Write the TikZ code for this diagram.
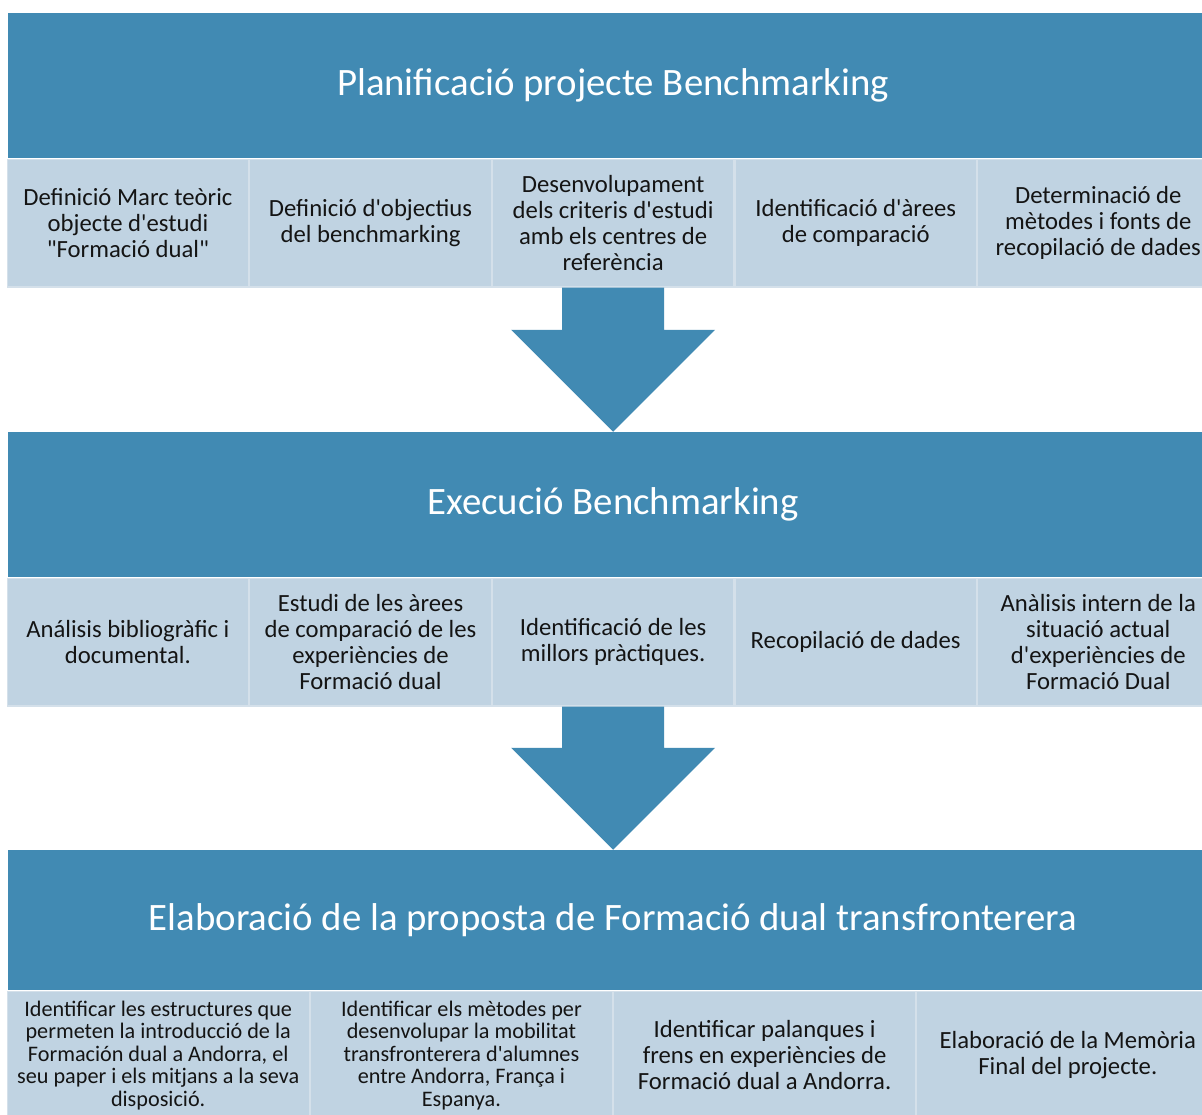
\documentclass[tikz,border=0pt]{standalone}
\usepackage{fontspec}
\setmainfont{Carlito}[Ligatures=TeXOff]
\usepackage{tikz}
\usetikzlibrary{positioning}
\definecolor{headblue}{RGB}{65,138,179}
\definecolor{cellblue}{RGB}{192,211,226}
\definecolor{cellline}{RGB}{212,224,234}
\definecolor{textdark}{RGB}{20,20,20}
\tikzstyle{phase} = [rectangle, fill=headblue, text=white, minimum width=1210pt, inner sep=0pt, font=\fontsize{38.8}{44}\selectfont]
\tikzstyle{task} = [rectangle, fill=cellblue, draw=cellline, line width=1.2pt, minimum width=241.4pt, minimum height=127.8pt, inner sep=0pt, text=textdark, align=center, font=\fontsize{24.7}{26}\selectfont]
\tikzstyle{widetask} = [task, minimum width=302pt]
\tikzstyle{smalltext} = [font=\fontsize{22.2}{22.5}\selectfont]
\newcommand{\blockarrow}[2]{
	\coordinate (tip) at (#1.south |- #2.north);
	\fill [headblue] ([xshift=-51pt]#1.south) -- ([xshift=-51pt,yshift=102pt]tip) -- ([xshift=-102pt,yshift=102pt]tip) -- (tip) -- ([xshift=102pt,yshift=102pt]tip) -- ([xshift=51pt,yshift=102pt]tip) -- ([xshift=51pt]#1.south) -- cycle;}

\begin{document}
\begin{tikzpicture}[x=1pt, y=-1pt, node distance=0pt]
		\useasboundingbox (0,0) rectangle (1202,1114);

		\node (plan) [phase, minimum height=145pt] at (613,85.5) {Planificació projecte Benchmarking};
		\node (pla1) [task, anchor=north west] at (6.6,158.6) {Definició Marc teòric\\objecte d'estudi\\"Formació dual"};
		\node (pla2) [task, right=of pla1] {Definició d'objectius\\del benchmarking};
		\node (pla3) [task, right=of pla2] {Desenvolupament\\dels criteris d'estudi\\amb els centres de\\referència};
		\node (pla4) [task, right=of pla3] {Identificació d'àrees\\de comparació};
		\node (pla5) [task, right=of pla4] {Determinació de\\mètodes i fonts de\\recopilació de dades};

		\node (exec) [phase, minimum height=145pt] at (613,504.5) {Execució Benchmarking};
		\node (exe1) [task, anchor=north west] at (6.6,577.6) {Análisis bibliogràfic i\\documental.};
		\node (exe2) [task, right=of exe1] {Estudi de les àrees\\de comparació de les\\experiències de\\Formació dual};
		\node (exe3) [task, right=of exe2] {Identificació de les\\millors pràctiques.};
		\node (exe4) [task, right=of exe3] {Recopilació de dades};
		\node (exe5) [task, right=of exe4] {Anàlisis intern de la\\situació actual\\d'experiències de\\Formació Dual};

		\node (elab) [phase, minimum height=140pt] at (613,920) {Elaboració de la proposta de Formació dual transfronterera};
		\node (ela1) [widetask, smalltext, anchor=north west] at (6.6,990.6) {Identificar les estructures que\\permeten la introducció de la\\Formación dual a Andorra, el\\seu paper i els mitjans a la seva\\disposició.};
		\node (ela2) [widetask, smalltext, right=of ela1] {Identificar els mètodes per\\desenvolupar la mobilitat\\transfronterera d'alumnes\\entre Andorra, França i\\Espanya.};
		\node (ela3) [widetask, right=of ela2] {Identificar palanques i\\frens en experiències de\\Formació dual a Andorra.};
		\node (ela4) [widetask, right=of ela3] {Elaboració de la Memòria\\Final del projecte.};

		\blockarrow{pla3}{exec}
		\blockarrow{exe3}{elab}
\end{tikzpicture}
\end{document}
